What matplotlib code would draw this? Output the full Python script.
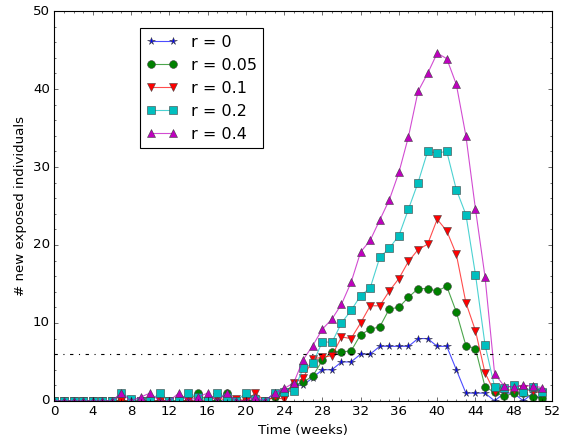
import matplotlib
matplotlib.use("Agg")
import matplotlib.pyplot as plt
from matplotlib.colors import to_rgba
from matplotlib.ticker import MultipleLocator

plt.style.use("classic")

weeks = list(range(52))

r0 = [0, 0, 0, 0, 0, 0, 0, 0, 0, 0, 0, 0, 0, 0, 0, 0, 0, 0, 0, 0,
      0, 0, 0, 1, 1, 2, 2, 3, 4, 4, 5, 5, 6, 6, 7, 7, 7, 7, 8, 8,
      7, 7, 4, 1, 1, 1, 0, 1, 1, 0, 1, 0]
r005 = [0, 0, 0, 0, 0, 0, 0, 0, 0, 0, 0, 0, 0, 0, 0, 1, 0, 0, 1, 0,
        0, 0, 0, 0.5, 1.2, 2.0, 2.4, 3.2, 5.2, 6.3, 6.3, 6.4, 8.5, 9.2, 9.5, 11.8, 12.0, 13.3, 14.4, 14.4,
        14.1, 14.7, 11.4, 7.1, 6.7, 1.8, 1.1, 0.6, 1.0, 1.0, 0.5, 0.4]
r01 = [0, 0, 0, 0, 0, 0, 0, 0, 0, 0, 0, 0, 0, 0, 0, 0, 0, 0.5, 0, 0.3,
       0, 1, 0, 0.5, 0.2, 2.3, 2.9, 5.4, 5.6, 5.8, 8.2, 8.0, 10.0, 12.2, 12.2, 14.1, 15.7, 17.9, 19.4, 20.1,
       23.3, 21.8, 18.8, 12.6, 9.0, 3.6, 1.1, 1.4, 1.4, 1.5, 1.3, 1.0]
r02 = [0, 0, 0, 0, 0, 0, 0, 1, 0.3, 0, 0, 1, 0, 0, 1, 0.5, 0, 1, 0.5, 0,
       1, 0.3, 0, 1, 1.1, 1.3, 4.2, 4.8, 7.6, 7.5, 10.0, 11.6, 13.5, 14.5, 18.4, 19.6, 21.2, 24.6, 28.0, 32.0,
       31.8, 32.0, 27.1, 23.9, 16.2, 7.2, 1.8, 1.6, 2.0, 1.1, 1.8, 1.1]
r04 = [0, 0, 0, 0, 0, 0, 0, 1, 0, 0.5, 1, 0, 0, 1, 0, 0.5, 1, 0, 1, 0,
       0, 0.5, 0, 1, 1.6, 2.3, 5.3, 7.1, 9.2, 10.5, 12.4, 15.2, 19.1, 20.6, 23.2, 25.8, 29.3, 33.9, 39.7, 42.0,
       44.6, 43.9, 40.6, 34.0, 24.6, 15.9, 3.5, 1.9, 1.8, 2.0, 1.9, 1.7]

series = [r0, r005, r01, r02, r04]
labels = ["r = 0", "r = 0.05", "r = 0.1", "r = 0.2", "r = 0.4"]
colors = ["b", "g", "r", "c", "m"]
markers = ["*", "o", "v", "s", "^"]

threshold = 6

fig = plt.figure(figsize=(561 / 80, 443 / 80), dpi=80, facecolor="white")
ax = fig.add_axes([0.097, 0.095, 0.887, 0.880])

for y, lab, c, m in zip(series, labels, colors, markers):
    # lighter line, solid markers
    ax.plot(weeks, y, color=to_rgba(c, 0.7), marker=m, mfc=c, label=lab,
            lw=1, ms=7, mec="0.25", mew=0.5)

ax.axhline(threshold, color="k", ls="-.", lw=1)

ax.set_xlim(0, 52)
ax.set_ylim(0, 50)
ax.xaxis.set_major_locator(MultipleLocator(4))
ax.xaxis.set_minor_locator(MultipleLocator(1))
ax.yaxis.set_major_locator(MultipleLocator(10))
ax.yaxis.set_minor_locator(MultipleLocator(2))
ax.set_xlabel("Time (weeks)")
ax.set_ylabel("# new exposed individuals")

ax.legend(loc="upper left", bbox_to_anchor=(0.171, 0.956), borderaxespad=0,
          numpoints=2, fontsize="large")

fig.savefig("out.png", dpi=80, facecolor="white")
